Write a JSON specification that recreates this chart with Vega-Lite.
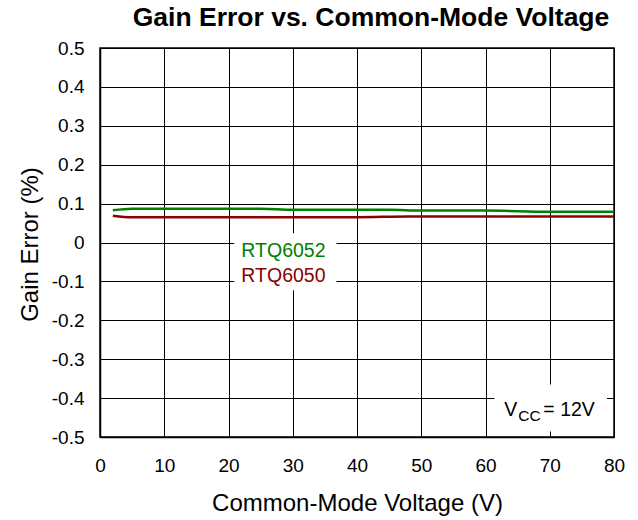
{
  "$schema": "https://vega.github.io/schema/vega-lite/v6.json",
  "width": 514,
  "height": 389,
  "autosize": {"type": "none"},
  "padding": {"left": 100, "top": 48, "right": 24, "bottom": 83},
  "background": "white",
  "title": {
    "text": "Gain Error vs. Common-Mode Voltage",
    "font": "Liberation Sans",
    "fontSize": 26.5,
    "fontWeight": "bold",
    "color": "black",
    "anchor": "middle",
    "frame": "group",
    "baseline": "alphabetic",
    "offset": -13,
    "dx": 14
  },
  "config": {
    "view": {"stroke": "black", "strokeWidth": 1.5},
    "axis": {
      "grid": true,
      "gridColor": "black",
      "gridOpacity": 1,
      "gridWidth": 1,
      "domain": true,
      "domainColor": "black",
      "domainWidth": 1.5,
      "ticks": false,
      "labelFont": "Liberation Sans",
      "labelFontSize": 19,
      "labelColor": "black",
      "titleFont": "Liberation Sans",
      "titleFontSize": 24,
      "titleFontWeight": "normal",
      "titleColor": "black"
    }
  },
  "datasets": {
    "curves": [
      {"x": 2, "y": 0.083, "series": "RTQ6052"},
      {"x": 5, "y": 0.087, "series": "RTQ6052"},
      {"x": 10, "y": 0.087, "series": "RTQ6052"},
      {"x": 20, "y": 0.087, "series": "RTQ6052"},
      {"x": 25, "y": 0.087, "series": "RTQ6052"},
      {"x": 30, "y": 0.084, "series": "RTQ6052"},
      {"x": 40, "y": 0.084, "series": "RTQ6052"},
      {"x": 45, "y": 0.084, "series": "RTQ6052"},
      {"x": 50, "y": 0.082, "series": "RTQ6052"},
      {"x": 60, "y": 0.082, "series": "RTQ6052"},
      {"x": 70, "y": 0.079, "series": "RTQ6052"},
      {"x": 80, "y": 0.079, "series": "RTQ6052"},
      {"x": 2, "y": 0.069, "series": "RTQ6050"},
      {"x": 5, "y": 0.065, "series": "RTQ6050"},
      {"x": 10, "y": 0.065, "series": "RTQ6050"},
      {"x": 20, "y": 0.065, "series": "RTQ6050"},
      {"x": 30, "y": 0.065, "series": "RTQ6050"},
      {"x": 40, "y": 0.065, "series": "RTQ6050"},
      {"x": 48, "y": 0.067, "series": "RTQ6050"},
      {"x": 60, "y": 0.067, "series": "RTQ6050"},
      {"x": 70, "y": 0.067, "series": "RTQ6050"},
      {"x": 80, "y": 0.067, "series": "RTQ6050"}
    ],
    "boxes": [
      {"x": 20.9, "x2": 36.8, "y": 0.024, "y2": -0.123},
      {"x": 61.4, "x2": 78.9, "y": -0.365, "y2": -0.486}
    ],
    "seriesLabels": [
      {"x": 22.0, "y": -0.036, "series": "RTQ6052"},
      {"x": 22.0, "y": -0.102, "series": "RTQ6050"}
    ],
    "vccMain": [
      {"x": 62.9, "y": -0.447, "label": "V"},
      {"x": 69.0, "y": -0.447, "label": "= 12V"}
    ],
    "vccSub": [
      {"x": 65.1, "y": -0.458, "label": "CC"}
    ]
  },
  "encoding": {
    "x": {
      "field": "x",
      "type": "quantitative",
      "scale": {"domain": [0, 80], "nice": false, "zero": false},
      "axis": {
        "values": [0, 10, 20, 30, 40, 50, 60, 70, 80],
        "format": "d",
        "labelPadding": 19,
        "labelFlush": false,
        "title": "Common-Mode Voltage (V)",
        "titleX": 257,
        "titleY": 73,
        "titleAlign": "center",
        "titleBaseline": "alphabetic"
      }
    },
    "y": {
      "field": "y",
      "type": "quantitative",
      "scale": {"domain": [-0.5, 0.5], "nice": false, "zero": false},
      "axis": {
        "values": [-0.5, -0.4, -0.3, -0.2, -0.1, 0, 0.1, 0.2, 0.3, 0.4, 0.5],
        "labelExpr": "datum.value == 0 ? '0' : (datum.value < 0 ? '-' + format(-datum.value, '.1f') : format(datum.value, '.1f'))",
        "labelPadding": 16,
        "labelFlush": false,
        "title": "Gain Error (%)",
        "titleAngle": -90,
        "titleX": -70,
        "titleY": 196,
        "titleAlign": "center",
        "titleBaseline": "middle"
      }
    }
  },
  "layer": [
    {
      "data": {"name": "boxes"},
      "mark": {"type": "rect", "fill": "white", "stroke": null},
      "encoding": {
        "x2": {"field": "x2"},
        "y2": {"field": "y2"}
      }
    },
    {
      "data": {"name": "curves"},
      "mark": {"type": "line", "strokeWidth": 2.5, "interpolate": "monotone"},
      "encoding": {
        "color": {
          "field": "series",
          "type": "nominal",
          "scale": {"domain": ["RTQ6052", "RTQ6050"], "range": ["#008000", "#8B0000"]},
          "legend": null
        }
      }
    },
    {
      "data": {"name": "seriesLabels"},
      "mark": {"type": "text", "align": "left", "baseline": "alphabetic", "font": "Liberation Sans", "fontSize": 19.5},
      "encoding": {
        "text": {"field": "series"},
        "color": {"field": "series", "type": "nominal", "legend": null}
      }
    },
    {
      "data": {"name": "vccMain"},
      "mark": {"type": "text", "align": "left", "baseline": "alphabetic", "font": "Liberation Sans", "fontSize": 19.5, "color": "black"},
      "encoding": {
        "text": {"field": "label"}
      }
    },
    {
      "data": {"name": "vccSub"},
      "mark": {"type": "text", "align": "left", "baseline": "alphabetic", "font": "Liberation Sans", "fontSize": 15.5, "color": "black"},
      "encoding": {
        "text": {"field": "label"}
      }
    }
  ]
}
